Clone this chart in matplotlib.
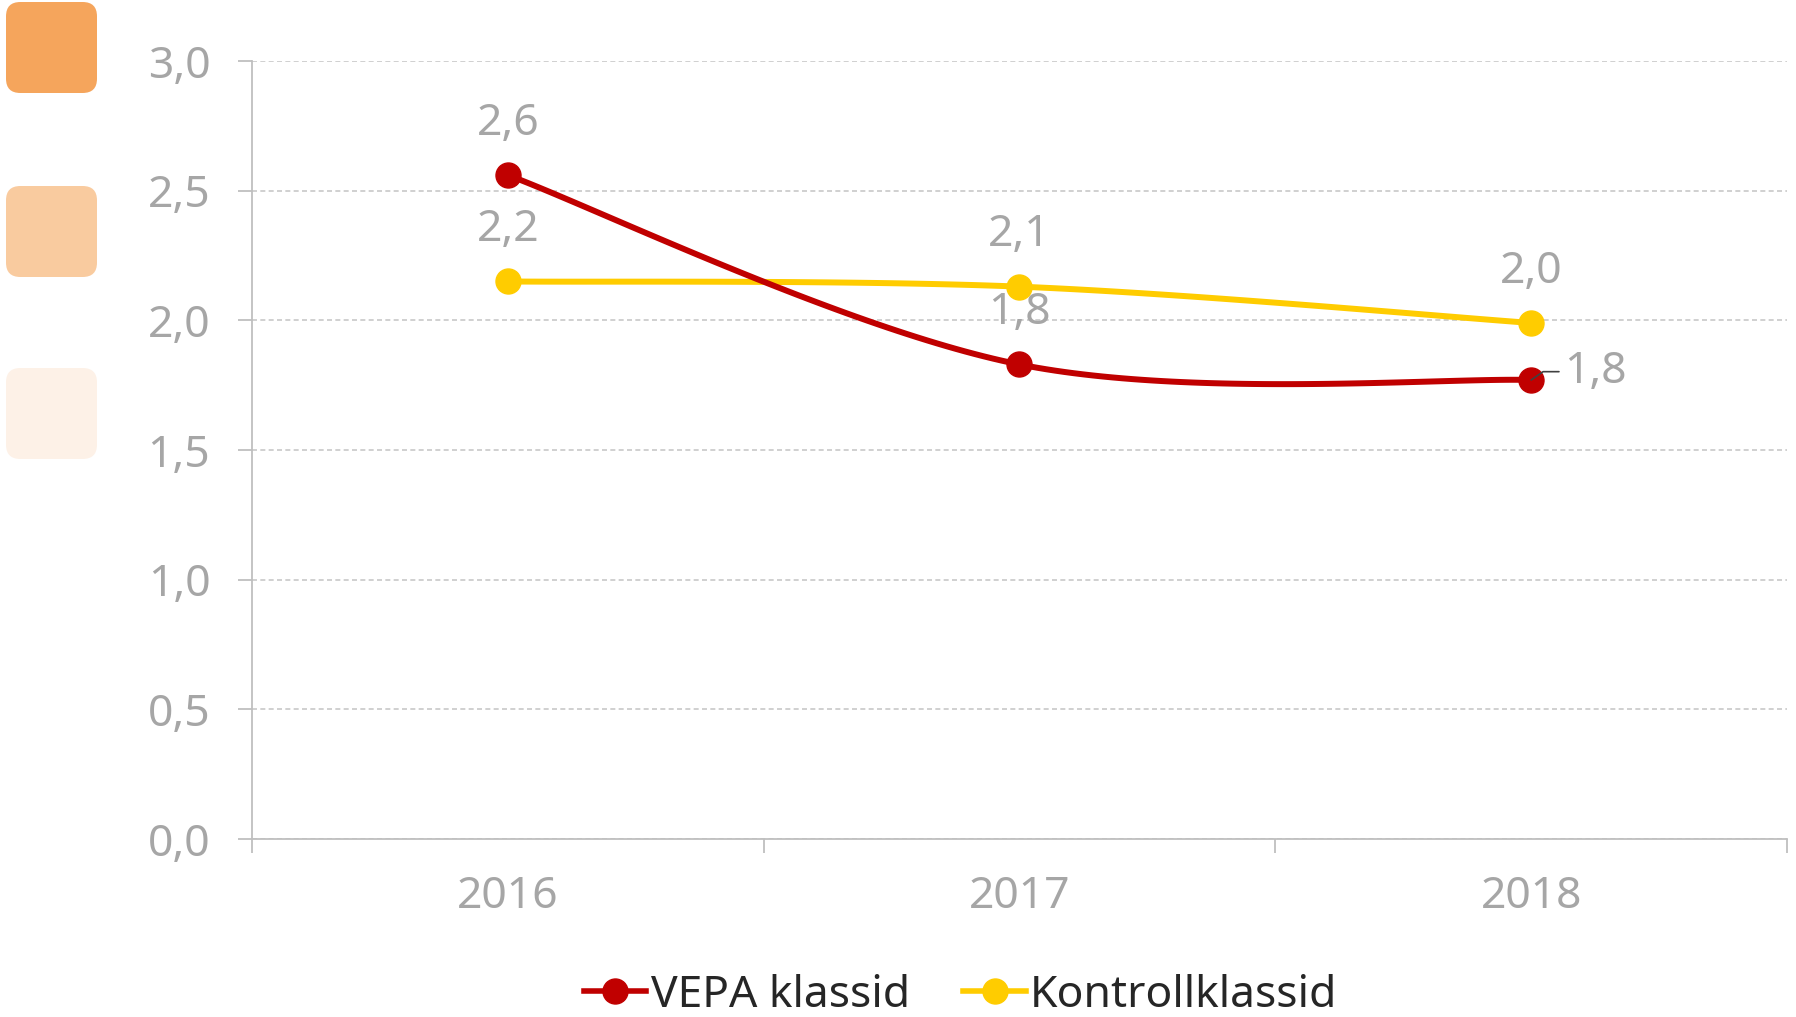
import numpy as np
import matplotlib.pyplot as plt
from matplotlib.patches import FancyBboxPatch

plt.rcParams['font.family'] = ['Noto Sans', 'DejaVu Sans']

# data
years = ['2016', '2017', '2018']
vepa = [2.56, 1.83, 1.77]
kontroll = [2.15, 2.13, 1.99]
vepa_labels = ['2,6', '1,8', '1,8']
kontroll_labels = ['2,2', '2,1', '2,0']
yticks = [0.0, 0.5, 1.0, 1.5, 2.0, 2.5, 3.0]
ytick_labels = ['0,0', '0,5', '1,0', '1,5', '2,0', '2,5', '3,0']

GRAY = '#a6a6a6'
RED = '#c00000'
YELLOW = '#ffcc00'
FS = 32


def smooth(xs, ys, n=60):
    # Excel-like smoothed line (Catmull-Rom through the points)
    xs = np.asarray(xs, float)
    ys = np.asarray(ys, float)
    px = np.concatenate([[xs[0]], xs, [xs[-1]]])
    py = np.concatenate([[ys[0]], ys, [ys[-1]]])
    outx, outy = [], []
    for i in range(1, len(px) - 2):
        p0, p1, p2, p3 = [np.array([px[j], py[j]]) for j in range(i - 1, i + 3)]
        c1 = p1 + (p2 - p0) / 6
        c2 = p2 - (p3 - p1) / 6
        t = np.linspace(0, 1, n)[:, None]
        b = ((1 - t) ** 3) * p1 + 3 * ((1 - t) ** 2) * t * c1 + 3 * (1 - t) * t ** 2 * c2 + t ** 3 * p2
        outx.extend(b[:, 0])
        outy.extend(b[:, 1])
    return outx, outy


fig = plt.figure(figsize=(17.96, 10.17), dpi=100)
ax = fig.add_axes([0.1403, 0.175, 0.8547, 0.765])

x = np.arange(len(years))

sx, sy = smooth(x, vepa)
ax.plot(sx, sy, color=RED, lw=4.3, solid_capstyle='round', zorder=3)
ax.plot(x, vepa, 'o', color=RED, ms=18, zorder=4)
sx, sy = smooth(x, kontroll)
ax.plot(sx, sy, color=YELLOW, lw=4.3, solid_capstyle='round', zorder=2)
ax.plot(x, kontroll, 'o', color=YELLOW, ms=18, zorder=4)

# data labels
for i in range(2):
    ax.annotate(vepa_labels[i], (x[i], vepa[i]), xytext=(0, 37), textcoords='offset points',
                ha='center', va='center', color=GRAY, fontsize=FS)
ax.annotate(vepa_labels[2], (x[2], vepa[2]), xytext=(24, 6), textcoords='offset points',
            ha='left', va='center', color=GRAY, fontsize=FS, zorder=5,
            arrowprops=dict(arrowstyle='-', color='#404040', lw=1.2,
                            connectionstyle='angle,angleA=0,angleB=35,rad=0',
                            shrinkA=2, shrinkB=0))
for i in range(3):
    ax.annotate(kontroll_labels[i], (x[i], kontroll[i]), xytext=(0, 37), textcoords='offset points',
                ha='center', va='center', color=GRAY, fontsize=FS)

ax.set_xlim(-0.5, 2.5)
ax.set_ylim(0, 3.0)
ax.set_yticks(yticks)
ax.set_yticklabels(ytick_labels)
ax.set_xticks([-0.5, 0.5, 1.5, 2.5])
ax.set_xticklabels([])
ax.set_xticks(x, minor=True)
ax.set_xticklabels(years, minor=True)

ax.tick_params(axis='y', length=10, width=1.3, color='#bfbfbf', labelcolor=GRAY,
               labelsize=FS, pad=20)
ax.tick_params(axis='x', which='major', length=10, width=1.3, color='#bfbfbf')
ax.tick_params(axis='x', which='minor', length=0, labelcolor=GRAY, labelsize=FS, pad=26)

ax.grid(axis='y', color='#c8c8c8', linestyle=(0, (3, 2)), lw=1.2)
ax.set_axisbelow(True)
for s in ['top', 'right']:
    ax.spines[s].set_visible(False)
for s in ['left', 'bottom']:
    ax.spines[s].set_color('#bfbfbf')
    ax.spines[s].set_linewidth(1.3)

# legend
h1, = ax.plot([], [], '-o', color=RED, lw=4, ms=18)
h2, = ax.plot([], [], '-o', color=YELLOW, lw=4, ms=18)
fig.legend([h1, h2], ['VEPA klassid', 'Kontrollklassid'], loc='center',
           bbox_to_anchor=(0.535, 0.021), ncol=2, frameon=False, fontsize=FS,
           handlelength=1.4, handletextpad=0.1, columnspacing=1.2,
           labelcolor='#262626', borderpad=0)

# orange swatches on the left
swatches = ['#f5a55c', '#f9cb9f', '#fdf1e7']
tops = [2, 186, 368]
for c, t in zip(swatches, tops):
    fig.patches.append(FancyBboxPatch((6 / 1796, 1 - (t + 91) / 1017), 91 / 1796, 91 / 1017,
                                      boxstyle='round,pad=0,rounding_size=0.008',
                                      transform=fig.transFigure, facecolor=c,
                                      edgecolor='none', mutation_aspect=1796 / 1017))

fig.savefig('out.png', dpi=100)
